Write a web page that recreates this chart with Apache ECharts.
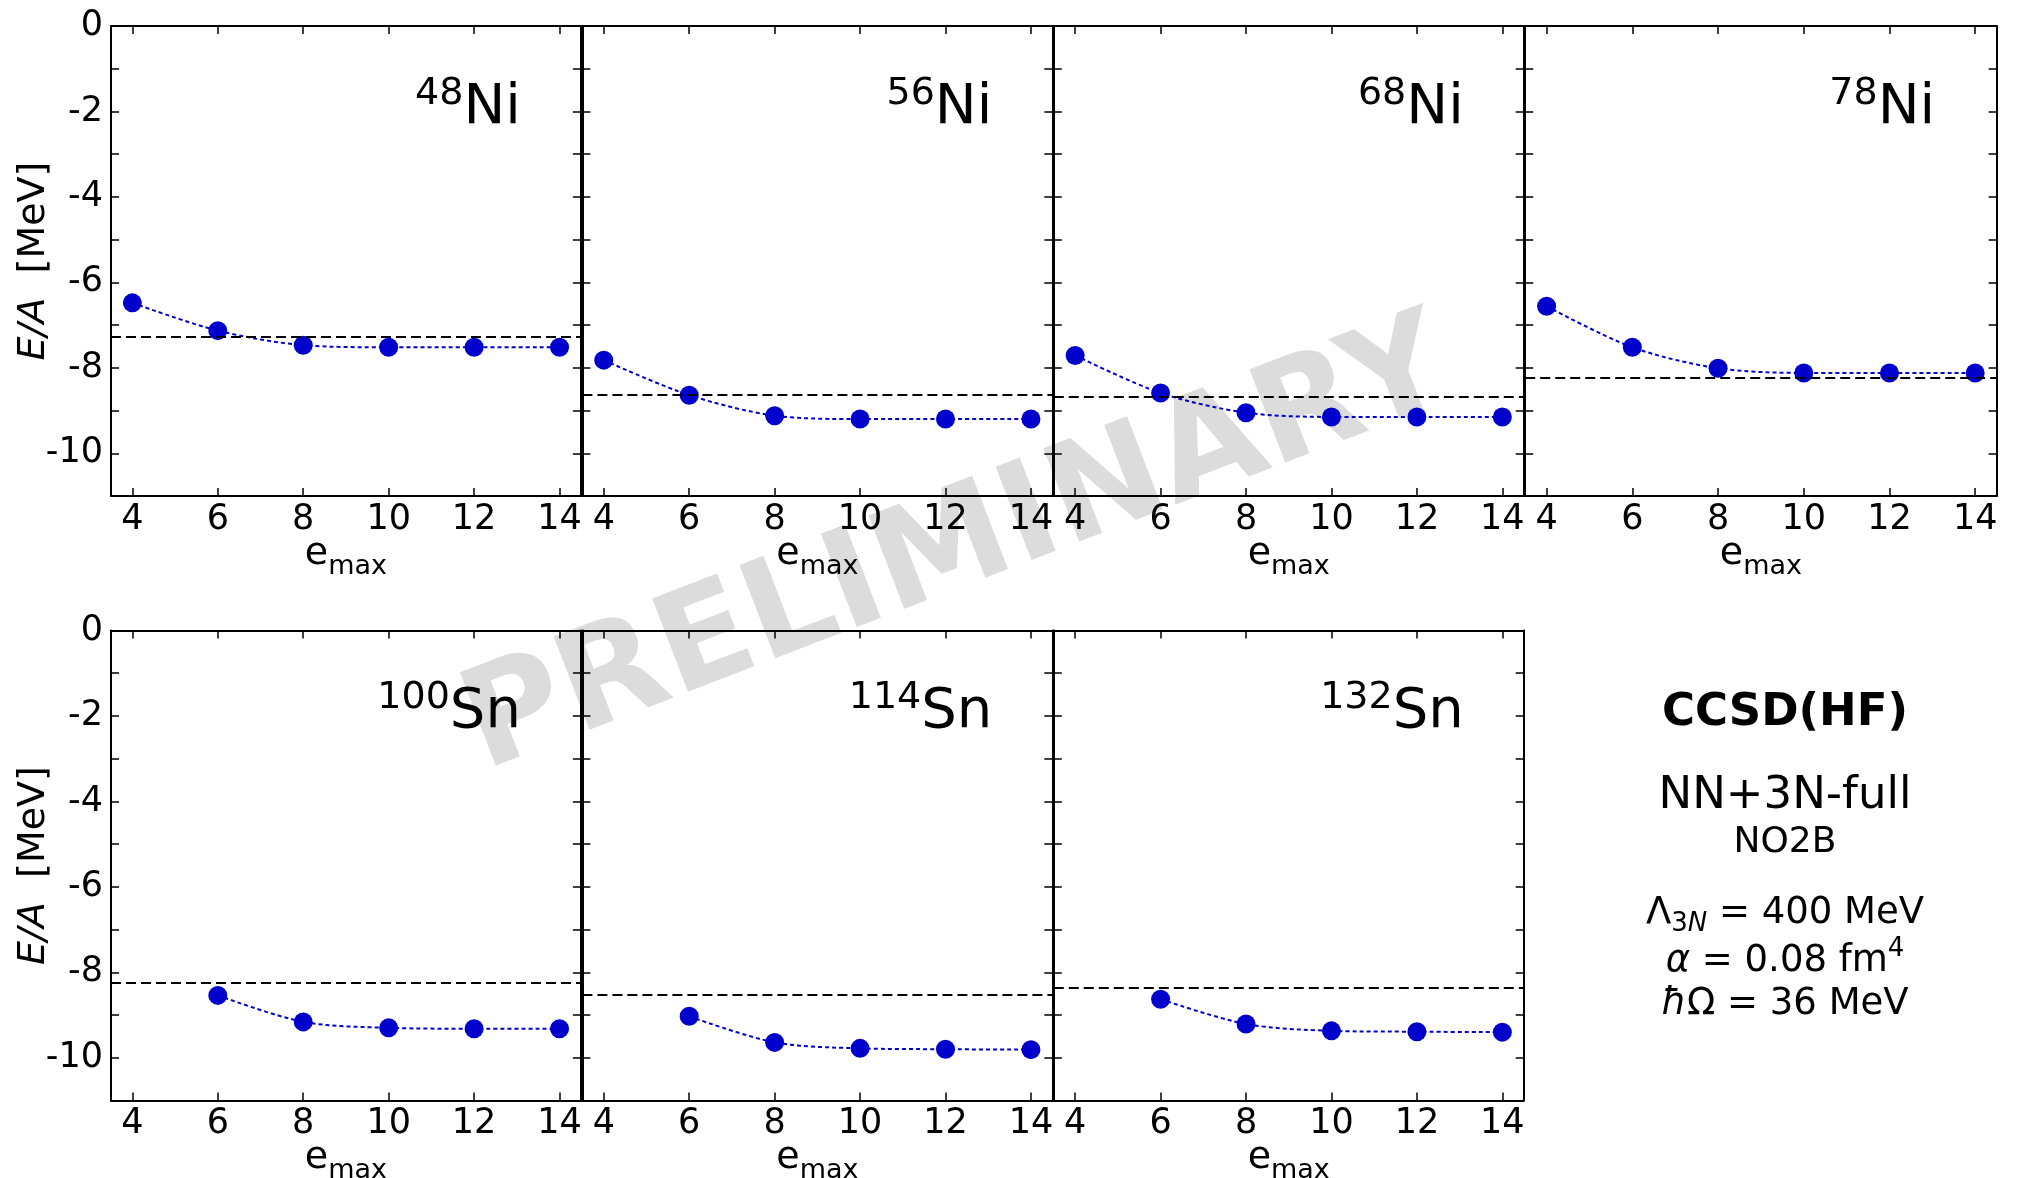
<!DOCTYPE html>
<html>
<head>
<meta charset="utf-8">
<script src="https://cdn.jsdelivr.net/npm/echarts@6/dist/echarts.min.js"></script>
<style>
  html, body { margin: 0; padding: 0; background: #fff; }
  #chart { width: 2018px; height: 1178px; }
</style>
</head>
<body>
<div id="chart"></div>
<script>
// values (E/A in MeV vs e_max)
const emax = [4, 6, 8, 10, 12, 14];
const ni48 = [-6.48, -7.13, -7.47, -7.52, -7.52, -7.52];
const ni56 = [-7.82, -8.64, -9.12, -9.20, -9.20, -9.20];
const ni68 = [-7.71, -8.59, -9.05, -9.15, -9.15, -9.15];
const ni78 = [-6.56, -7.52, -8.01, -8.12, -8.12, -8.12];
const sn100 = [null, -8.54, -9.16, -9.30, -9.32, -9.32];
const sn114 = [null, -9.03, -9.64, -9.78, -9.80, -9.81];
const sn132 = [null, -8.63, -9.21, -9.37, -9.39, -9.40];
// dashed horizontal reference per nucleus
const reference = [-7.27, -8.64, -8.68, -8.23, -8.25, -8.53, -8.35];
const massNumbers = ['48', '56', '68', '78', '100', '114', '132'];
const elements = ['Ni', 'Ni', 'Ni', 'Ni', 'Sn', 'Sn', 'Sn'];
const xTickValues = [4, 6, 8, 10, 12, 14];
const yLabelValues = [0, -2, -4, -6, -8, -10];

const panelValues = [ni48, ni56, ni68, ni78, sn100, sn114, sn132];

const FONT = '"DejaVu Sans", sans-serif';
const BLUE = '#0000cc';
const GRID_LEFT = 111, CELL_W = 471.4, GRID_W = 469.9, GRID_H = 470;
const ROW_TOP = [26, 630.5];

const chart = echarts.init(document.getElementById('chart'));

const grids = [], xAxes = [], yAxes = [], series = [], graphics = [];

const axisLine = { show: true, onZero: false, lineStyle: { color: '#000', width: 2 } };
const tickStyle = { color: '#000', width: 1.5 };

panelValues.forEach((vals, i) => {
    const row = i < 4 ? 0 : 1;
    const col = i % 4;
    const left = GRID_LEFT + col * CELL_W;
    const top = ROW_TOP[row];
    // last panel of each row keeps the full width so the outer frame ends where the figure does
    const width = (col === 3) ? CELL_W : GRID_W;
    grids.push({ left: left, top: top, width: width, height: GRID_H, outerBoundsMode: 'none', containLabel: false });

    // bottom x axis with labels, top x axis with ticks only
    xAxes.push({
        type: 'value', gridIndex: i, position: 'bottom', min: 3.5, max: 14.5,
        axisLine: axisLine,
        axisTick: { show: true, inside: true, length: 8, customValues: xTickValues, lineStyle: tickStyle },
        axisLabel: { show: true, customValues: xTickValues, margin: 6, color: '#000', fontSize: 35, fontFamily: FONT },
        splitLine: { show: false },
        name: '{e|e}{m|max}', nameLocation: 'middle', nameGap: 39, nameMoveOverlap: false,
        nameTextStyle: {
            color: '#000', fontFamily: FONT,
            rich: {
                e: { fontSize: 38, fontFamily: FONT, color: '#000', verticalAlign: 'bottom', padding: [0, 0, 7, 0] },
                m: { fontSize: 27, fontFamily: FONT, color: '#000', verticalAlign: 'bottom' }
            }
        }
    });
    xAxes.push({
        type: 'value', gridIndex: i, position: 'top', min: 3.5, max: 14.5,
        axisLine: axisLine,
        axisTick: { show: true, inside: true, length: 8, customValues: xTickValues, lineStyle: tickStyle },
        axisLabel: { show: false },
        splitLine: { show: false }
    });

    const leftY = {
        type: 'value', gridIndex: i, position: 'left', min: -11, max: 0, interval: 1,
        axisLine: axisLine,
        axisTick: { show: true, inside: true, length: 8, lineStyle: tickStyle },
        axisLabel: { show: col === 0, customValues: yLabelValues, margin: 8, color: '#000', fontSize: 35, fontFamily: FONT },
        splitLine: { show: false }
    };
    if (col === 0) {
        leftY.name = '{i|E/A}{n|  [MeV]}';
        leftY.nameLocation = 'middle';
        leftY.nameRotate = 90;
        leftY.nameGap = 58;
        leftY.nameMoveOverlap = false;
        leftY.nameTextStyle = {
            color: '#000', fontFamily: FONT,
            rich: {
                i: { fontSize: 38, fontFamily: FONT, fontStyle: 'italic', color: '#000' },
                n: { fontSize: 38, fontFamily: FONT, color: '#000' }
            }
        };
    }
    yAxes.push(leftY);
    yAxes.push({
        type: 'value', gridIndex: i, position: 'right', min: -11, max: 0, interval: 1,
        axisLine: axisLine,
        axisTick: { show: true, inside: true, length: 8, lineStyle: tickStyle },
        axisLabel: { show: false },
        splitLine: { show: false }
    });

    const data = emax.map((x, k) => [x, vals[k]]).filter(d => d[1] !== null);
    series.push({
        type: 'line',
        xAxisIndex: 2 * i,
        yAxisIndex: 2 * i,
        data: data,
        smooth: 0.3,
        symbol: 'circle',
        symbolSize: 19,
        itemStyle: { color: BLUE },
        lineStyle: { color: BLUE, width: 2, type: [4, 3] },
        markLine: {
            silent: true,
            symbol: ['none', 'none'],
            label: { show: false },
            lineStyle: { color: '#000', width: 2, type: [10, 5] },
            data: [{ yAxis: reference[i] }]
        },
        z: 3
    });

    // nucleus title, e.g. 48Ni
    graphics.push({
        type: 'text',
        x: left + GRID_W - 60,
        y: top + 110,
        z: 10,
        style: {
            text: '{sup|' + massNumbers[i] + '}{el|' + elements[i] + '}',
            align: 'right',
            verticalAlign: 'bottom',
            rich: {
                sup: { fontSize: 38, fontFamily: FONT, fill: '#000', verticalAlign: 'bottom', padding: [0, 0, 23, 0] },
                el: { fontSize: 56, fontFamily: FONT, fill: '#000', verticalAlign: 'bottom' }
            }
        }
    });
});

// watermark behind everything
graphics.push({
    type: 'text',
    x: 958,
    y: 550,
    rotation: 21 * Math.PI / 180,
    z: -10,
    silent: true,
    style: {
        text: 'PRELIMINARY',
        fontSize: 137,
        fontWeight: 'bold',
        fontFamily: FONT,
        fill: '#dcdcdc',
        align: 'center',
        verticalAlign: 'middle'
    }
});

// description block on the right
const CX = 1785;
graphics.push(
    { type: 'text', x: CX, y: 713, style: { text: 'CCSD(HF)', fontSize: 45, fontWeight: 'bold', fontFamily: FONT, fill: '#000', align: 'center', verticalAlign: 'middle' } },
    { type: 'text', x: CX, y: 796, style: { text: 'NN+3N-full', fontSize: 45, fontFamily: FONT, fill: '#000', align: 'center', verticalAlign: 'middle' } },
    { type: 'text', x: CX, y: 843, style: { text: 'NO2B', fontSize: 36, fontFamily: FONT, fill: '#000', align: 'center', verticalAlign: 'middle' } },
    {
        type: 'text', x: CX, y: 937,
        style: {
            text: '{m|Λ}{s|3}{si|N}{m| = 400 MeV}',
            align: 'center', verticalAlign: 'bottom',
            rich: {
                m: { fontSize: 37, fontFamily: FONT, fill: '#000', verticalAlign: 'bottom', padding: [0, 0, 5, 0] },
                s: { fontSize: 26, fontFamily: FONT, fill: '#000', verticalAlign: 'bottom' },
                si: { fontSize: 26, fontFamily: FONT, fontStyle: 'italic', fill: '#000', verticalAlign: 'bottom' }
            }
        }
    },
    {
        type: 'text', x: CX, y: 980,
        style: {
            text: '{i|α}{m| = 0.08 fm}{p|4}',
            align: 'center', verticalAlign: 'bottom',
            rich: {
                i: { fontSize: 37, fontFamily: FONT, fontStyle: 'italic', fill: '#000', verticalAlign: 'bottom' },
                m: { fontSize: 37, fontFamily: FONT, fill: '#000', verticalAlign: 'bottom' },
                p: { fontSize: 26, fontFamily: FONT, fill: '#000', verticalAlign: 'bottom', padding: [0, 0, 18, 0] }
            }
        }
    },
    {
        type: 'text', x: CX, y: 1023,
        style: {
            text: '{i|ħ}{m|Ω = 36 MeV}',
            align: 'center', verticalAlign: 'bottom',
            rich: {
                i: { fontSize: 37, fontFamily: FONT, fontStyle: 'italic', fill: '#000', verticalAlign: 'bottom' },
                m: { fontSize: 37, fontFamily: FONT, fill: '#000', verticalAlign: 'bottom' }
            }
        }
    }
);

chart.setOption({
    backgroundColor: '#fff',
    animation: false,
    textStyle: { fontFamily: FONT },
    grid: grids,
    xAxis: xAxes,
    yAxis: yAxes,
    series: series,
    graphic: graphics
});
</script>
</body>
</html>
